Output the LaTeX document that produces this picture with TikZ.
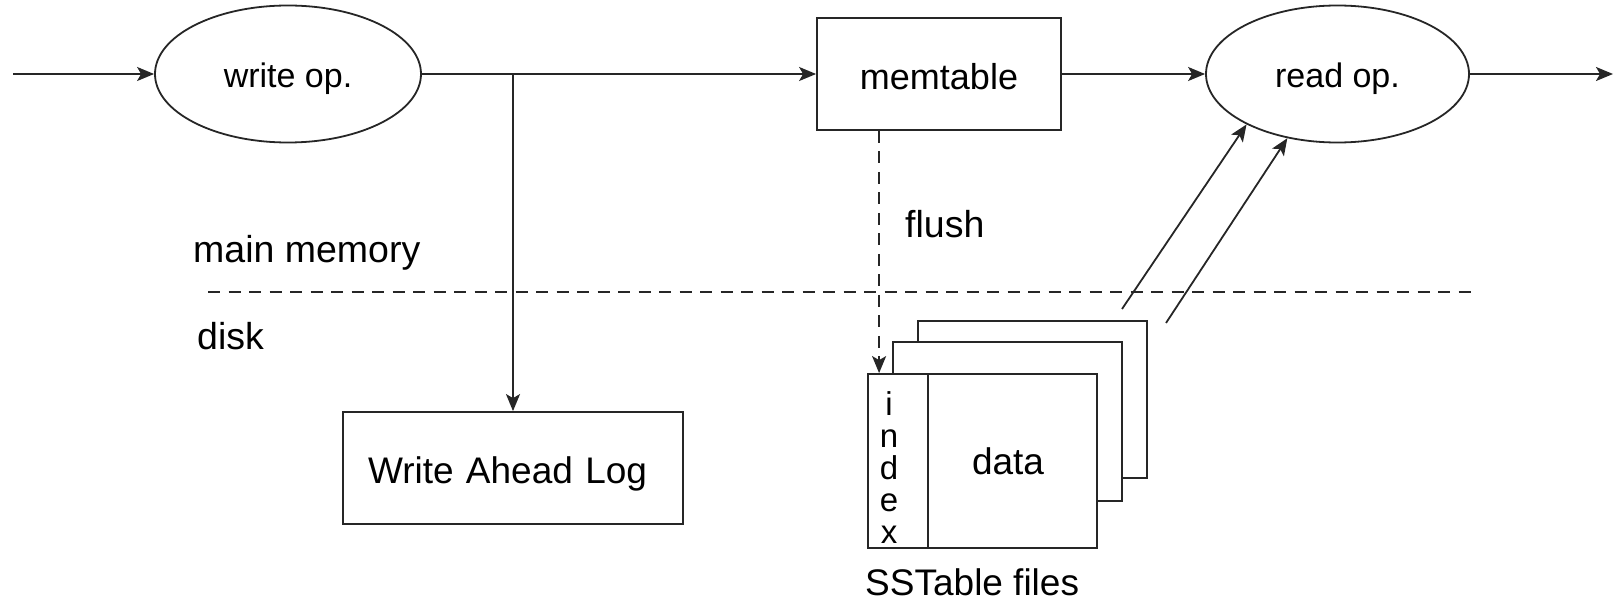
\documentclass[tikz,border=0pt]{standalone}
\usepackage{fontspec}
\setmainfont{Liberation Sans}
\usetikzlibrary{shapes.geometric,arrows.meta,calc}
\tikzset{
  ln/.style={line width=1.8pt, draw=black!85},
  arr/.style={ln, -{Stealth[length=17pt,width=14pt,inset=4pt]}},
  dsh/.style={ln, dash pattern=on 12pt off 8.5pt},
  op/.style={ellipse, draw=black!85, line width=1.8pt, fill=white, inner sep=0pt,
    minimum width=266pt, minimum height=137pt,
    font=\fontsize{34}{40}\selectfont, text height=30pt, text depth=3pt},
  box/.style={rectangle, draw=black!85, line width=1.8pt, fill=white, inner sep=0pt,
    font=\fontsize{36}{42}\selectfont},
  lbl/.style={inner sep=0pt, anchor=base west, font=\fontsize{37.5}{42}\selectfont},
  idxletter/.style={inner sep=0pt, anchor=base, font=\fontsize{33}{33}\selectfont},
}
\begin{document}
\begin{tikzpicture}[x=1pt,y=-1pt]
\useasboundingbox (0,0) rectangle (1614,604);

% operations and in-memory table
\node[op] (wop) at (288,74) {write op.};
\node[op, minimum width=263pt] (rop) at (1337.5,74) {read op.};
\node[box, minimum width=244pt, minimum height=112pt, text height=32pt, text depth=0pt]
  (mem) at (939,74) {memtable};

% write ahead log (text set flush left inside the box)
\node[box, minimum height=112pt, inner xsep=25pt, text width=290pt, align=left,
  font=\fontsize{37}{42}\selectfont, text height=30pt, text depth=0pt]
  (wal) at (513,468) {Write Ahead Log};

% stacked SSTable files (back to front)
\node[box, minimum width=229pt, minimum height=157pt] (sst3) at (1032.5,399.5) {};
\node[box, minimum width=229pt, minimum height=159pt] (sst2) at (1007.5,421.5) {};
\node[box, minimum width=60pt, minimum height=174pt] (idx) at (898,461) {};
\node[box, minimum height=174pt, inner xsep=44pt, text width=81pt, align=left,
  text height=26pt, text depth=0pt, font=\fontsize{37}{42}\selectfont]
  (data) at (1012.5,461) {data};
\foreach \c [count=\k] in {i,n,d,e,x}
  \node[idxletter] (ix\k) at (889,383+32*\k) {\c};

% labels
\node[lbl] (mainmem) at (193,262) {main memory};
\node[lbl] (disk) at (197,349) {disk};
\node[lbl] (flush) at (905,237) {flush};
\node[lbl, font=\fontsize{37}{42}\selectfont] (sstlbl) at (865,595) {SSTable files};

% free ends
\coordinate (src) at (13,74);
\coordinate (sink) at (1613,74);
\coordinate (sepL) at (208,292);
\coordinate (sepR) at (1473,292);
\coordinate (rd1) at (1122,309);
\coordinate (rd2) at (1166,323);

% memory / disk boundary
\draw[dsh] (sepL) -- (sepR);

% data flow
\draw[arr] (src) -- (wop.west);
\draw[arr] (wop.east) -- (mem.west);
\draw[arr] (wop.east -| wal.north) -- (wal.north);
\draw[arr] (mem.east) -- (rop.west);
\draw[arr] (rop.east) -- (sink);
\draw[arr, dash pattern=on 12pt off 8.5pt]
  ([xshift=12pt]idx.north west |- mem.south) -- ([xshift=12pt]idx.north west);
\draw[arr] (rd1) -- (rop.209);
\draw[arr] (rd2) -- (rop.232.5);
\end{tikzpicture}
\end{document}
